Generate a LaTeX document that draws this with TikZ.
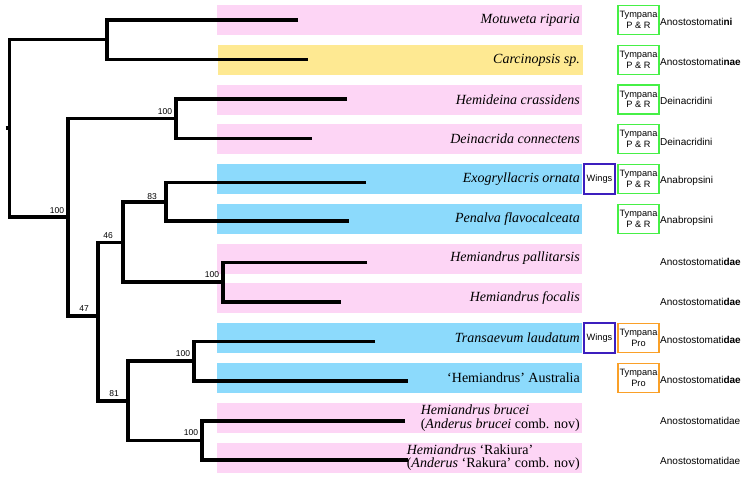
\documentclass[tikz,border=0pt]{standalone}
\usepackage{fontspec}
\setmainfont{Liberation Serif}
\setsansfont{Liberation Sans}
\definecolor{bpink}{RGB}{253,213,245}
\definecolor{byellow}{RGB}{254,233,146}
\definecolor{bblue}{RGB}{140,218,252}
\definecolor{bgreen}{RGB}{70,240,70}
\definecolor{bviolet}{RGB}{60,30,190}
\definecolor{borange}{RGB}{250,160,40}
\begin{document}
\begin{tikzpicture}[x=1pt,y=-1pt,
  band/.style={inner sep=0pt,minimum width=365pt,minimum height=30pt},
  spname/.style={anchor=east,inner sep=0pt,font=\fontsize{14}{13.3}\selectfont},
  tymp/.style={draw=bgreen,line width=1.4pt,inner sep=0pt,minimum width=41pt,minimum height=29pt,align=center,font=\sffamily\fontsize{9.2}{10.6}\selectfont},
  tympro/.style={tymp,draw=borange},
  wingsbox/.style={draw=bviolet,line width=1.4pt,inner sep=0pt,minimum width=31pt,minimum height=30pt,font=\sffamily\fontsize{9.2}{10.6}\selectfont},
  tribe/.style={anchor=west,inner sep=0pt,font=\sffamily\fontsize{10}{12}\selectfont},
  boot/.style={inner sep=0pt,font=\sffamily\fontsize{8.5}{10}\selectfont},
  clade/.style={line width=3.2pt,line cap=butt,line join=miter}]
\useasboundingbox (0,0) rectangle (746,479);
% bands
\node[band,fill=bpink] (b1) at (399.5,20) {};
\node[band,fill=byellow] (b2) at (400,60) {};
\node[band,fill=bpink] (b3) at (399.5,99.5) {};
\node[band,fill=bpink] (b4) at (399.5,139) {};
\node[band,fill=bblue] (b5) at (399.5,179) {};
\node[band,fill=bblue] (b6) at (399.5,219) {};
\node[band,fill=bpink] (b7) at (399.5,258.5) {};
\node[band,fill=bpink] (b8) at (399.5,298) {};
\node[band,fill=bblue] (b9) at (399.5,338) {};
\node[band,fill=bblue] (b10) at (399.5,378) {};
\node[band,fill=bpink] (b11) at (399.5,418) {};
\node[band,fill=bpink] (b12) at (399.5,457.5) {};
% tips
\coordinate (t1) at (298,20);
\coordinate (t2) at (308,59.5);
\coordinate (t3) at (347,99);
\coordinate (t4) at (312,138.5);
\coordinate (t5) at (366,182.5);
\coordinate (t6) at (349,221);
\coordinate (t7) at (367,262.5);
\coordinate (t8) at (341,302);
\coordinate (t9) at (375,341.5);
\coordinate (t10) at (408,381);
\coordinate (t11) at (405,421);
\coordinate (t12) at (408,460);
% internal nodes
\coordinate (R) at (9.3,128);
\coordinate (Rs) at (5.5,128);
\coordinate (A) at (107,39.5);
\coordinate (B) at (68,217);
\coordinate (C) at (176,118.5);
\coordinate (G) at (98,316);
\coordinate (E) at (123,242.5);
\coordinate (D) at (166,202);
\coordinate (F) at (223,282);
\coordinate (I) at (128,401);
\coordinate (H) at (194,361);
\coordinate (J) at (202,440.5);
% tree
\draw[clade] (t1) -| (A) |- (t2);
\draw[clade] (t3) -| (C) |- (t4);
\draw[clade] (t5) -| (D) |- (t6);
\draw[clade] (t7) -| (F) |- (t8);
\draw[clade] (t9) -| (H) |- (t10);
\draw[clade] (t11) -| (J) |- (t12);
\draw[clade] (D) -| (E) |- (F);
\draw[clade] (H) -| (I) |- (J);
\draw[clade] (E) -| (G) |- (I);
\draw[clade] (C) -| (B) |- (G);
\draw[clade] (A) -| (R) |- (B);
\draw[clade] (Rs) -- (R);
% support values
\node[boot] (s1) at (57,211) {100};
\node[boot] (s2) at (165,112) {100};
\node[boot] (s3) at (152,197) {83};
\node[boot] (s4) at (108,236) {46};
\node[boot] (s5) at (212,275) {100};
\node[boot] (s6) at (84,309) {47};
\node[boot] (s7) at (183,354) {100};
\node[boot] (s8) at (114,394) {81};
\node[boot] (s9) at (191,433) {100};
% species names
\node[spname] (n1) at (580,20) {\textit{Motuweta riparia}};
\node[spname] (n2) at (580,60) {\textit{Carcinopsis sp.}};
\node[spname] (n3) at (580,99.5) {\textit{Hemideina crassidens}};
\node[spname] (n4) at (580,139) {\textit{Deinacrida connectens}};
\node[spname] (n5) at (580,179) {\textit{Exogryllacris ornata}};
\node[spname] (n6) at (580,219) {\textit{Penalva flavocalceata}};
\node[spname] (n7) at (580,258.5) {\textit{Hemiandrus pallitarsis}};
\node[spname] (n8) at (580,298) {\textit{Hemiandrus focalis}};
\node[spname] (n9) at (580,338) {\textit{Transaevum laudatum}};
\node[spname] (n10) at (580,378) {‘Hemiandrus’ Australia};
\node[spname,align=left] (n11) at (580,418) {\textit{Hemiandrus brucei}\\(\textit{Anderus brucei} comb. nov)};
\node[spname,align=left] (n12) at (580,457.5) {\textit{Hemiandrus} ‘Rakiura’\\(\textit{Anderus} ‘Rakura’ comb. nov)};
% wings
\node[wingsbox] (w5) at (599.5,179) {Wings};
\node[wingsbox] (w9) at (599.5,338) {Wings};
% tympana
\node[tymp] (y1) at (638.5,20) {Tympana\\P \& R};
\node[tymp] (y2) at (638.5,60) {Tympana\\P \& R};
\node[tymp] (y3) at (638.5,99.5) {Tympana\\P \& R};
\node[tymp] (y4) at (638.5,139) {Tympana\\P \& R};
\node[tymp] (y5) at (638.5,179) {Tympana\\P \& R};
\node[tymp] (y6) at (638.5,219) {Tympana\\P \& R};
\node[tympro] (y9) at (638.5,338) {Tympana\\Pro};
\node[tympro] (y10) at (638.5,378) {Tympana\\Pro};
% tribes / families
\node[tribe] (f1) at (660,22) {Anostostomati\textbf{ni}};
\node[tribe] (f2) at (660,62) {Anostostomati\textbf{nae}};
\node[tribe] (f3) at (660,101) {Deinacridini};
\node[tribe] (f4) at (660,141.5) {Deinacridini};
\node[tribe] (f5) at (660,181) {Anabropsini};
\node[tribe] (f6) at (660,221) {Anabropsini};
\node[tribe] (f7) at (660,262) {Anostostomati\textbf{dae}};
\node[tribe] (f8) at (660,302) {Anostostomati\textbf{dae}};
\node[tribe] (f9) at (660,340) {Anostostomati\textbf{dae}};
\node[tribe] (f10) at (660,380) {Anostostomati\textbf{dae}};
\node[tribe] (f11) at (660,421) {Anostostomatidae};
\node[tribe] (f12) at (660,461) {Anostostomatidae};
\end{tikzpicture}
\end{document}
